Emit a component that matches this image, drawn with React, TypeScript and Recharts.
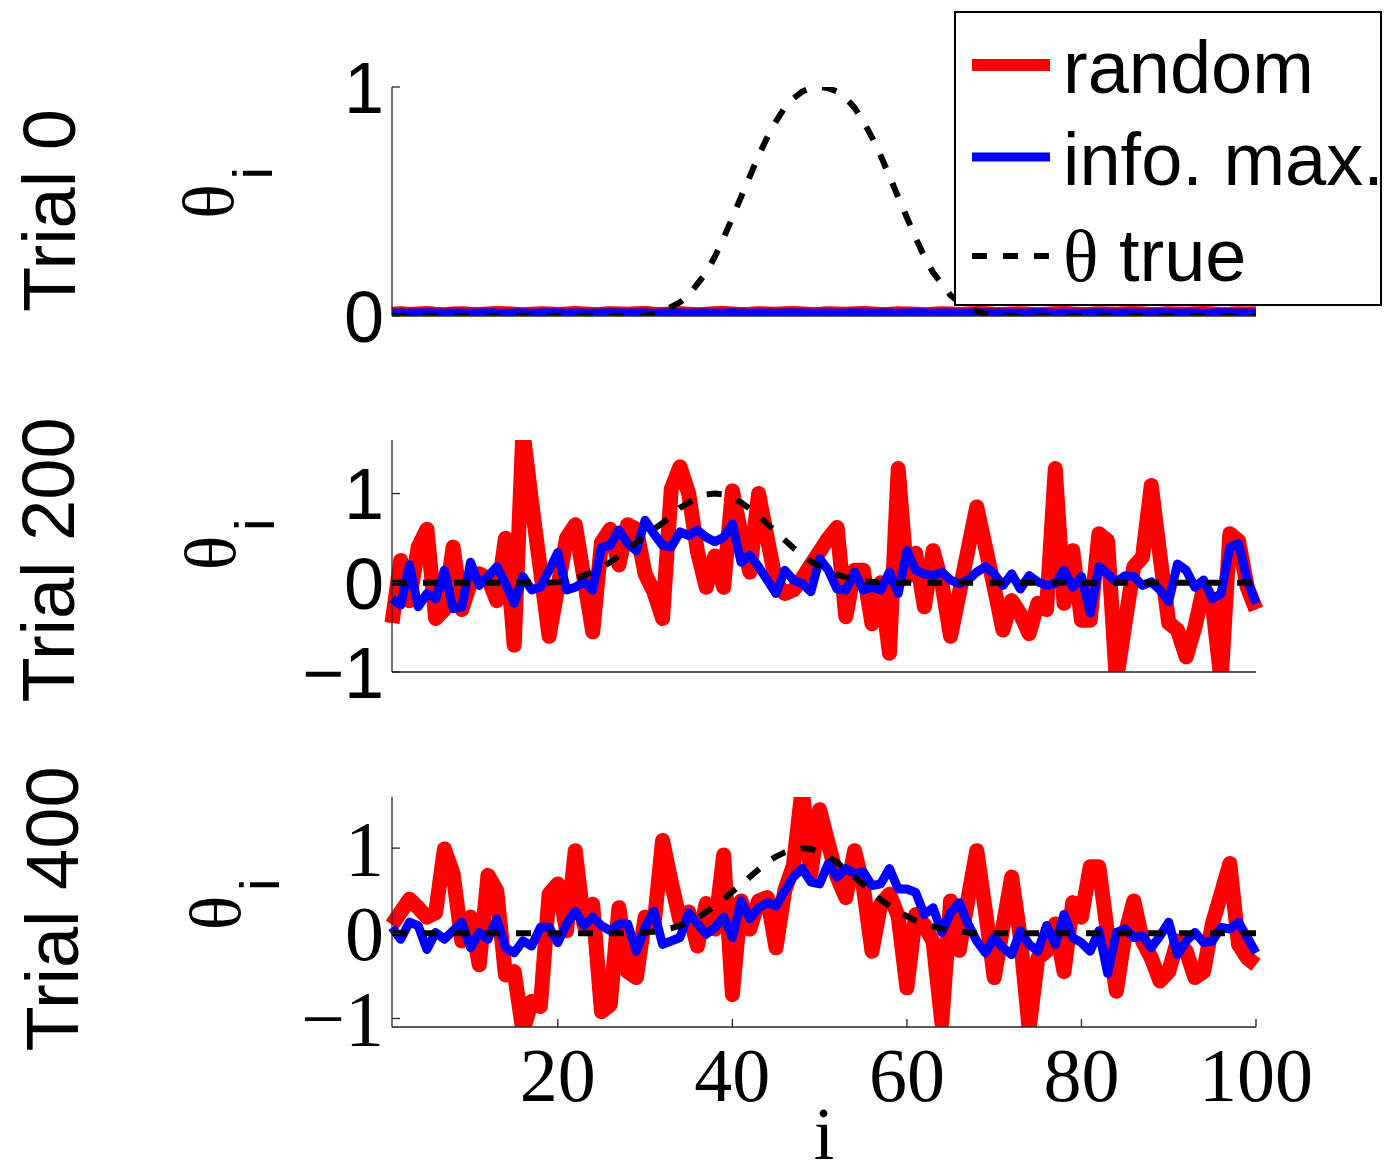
import React from 'react';
import { LineChart, Line, XAxis, YAxis, Label } from 'recharts';

// sample index i = 1..100
const indexI = Array.from({ length: 100 }, (_, k) => k + 1);

// Trial 0
const random0 = [
  0.008, 0.010, 0.007, 0.009, 0.011, 0.008, 0.006, 0.009, 0.010, 0.008,
  0.007, 0.009, 0.011, 0.010, 0.008, 0.006, 0.008, 0.010, 0.009, 0.007,
  0.009, 0.011, 0.009, 0.007, 0.008, 0.010, 0.009, 0.008, 0.010, 0.011,
  0.008, 0.007, 0.009, 0.010, 0.008, 0.006, 0.008, 0.010, 0.011, 0.009,
  0.007, 0.008, 0.010, 0.009, 0.008, 0.010, 0.011, 0.009, 0.007, 0.008,
  0.010, 0.009, 0.008, 0.010, 0.011, 0.009, 0.007, 0.008, 0.010, 0.009,
  0.008, 0.006, 0.008, 0.010, 0.009, 0.007, 0.009, 0.011, 0.010, 0.008,
  0.007, 0.009, 0.010, 0.008, 0.006, 0.008, 0.010, 0.011, 0.009, 0.007,
  0.008, 0.010, 0.009, 0.008, 0.010, 0.011, 0.009, 0.007, 0.008, 0.010,
  0.009, 0.008, 0.010, 0.011, 0.009, 0.007, 0.008, 0.010, 0.009, 0.010,
];
const info0 = [
  0.013, 0.013, 0.012, 0.013, 0.014, 0.013, 0.012, 0.013, 0.013, 0.012,
  0.013, 0.014, 0.013, 0.012, 0.013, 0.013, 0.012, 0.013, 0.014, 0.013,
  0.012, 0.013, 0.013, 0.012, 0.013, 0.014, 0.013, 0.012, 0.013, 0.013,
  0.012, 0.013, 0.014, 0.013, 0.012, 0.013, 0.013, 0.012, 0.013, 0.014,
  0.013, 0.012, 0.013, 0.013, 0.012, 0.013, 0.014, 0.013, 0.012, 0.013,
  0.013, 0.012, 0.013, 0.014, 0.013, 0.012, 0.013, 0.013, 0.012, 0.013,
  0.014, 0.013, 0.012, 0.013, 0.013, 0.012, 0.013, 0.014, 0.013, 0.012,
  0.013, 0.013, 0.012, 0.013, 0.014, 0.013, 0.012, 0.013, 0.013, 0.012,
  0.013, 0.014, 0.013, 0.012, 0.013, 0.013, 0.012, 0.013, 0.014, 0.013,
  0.012, 0.013, 0.013, 0.012, 0.013, 0.014, 0.013, 0.012, 0.013, 0.013,
];
const theta0 = [
  0, 0, 0, 0, 0, 0, 0, 0, 0, 0,
  0, 0, 0, 0, 0, 0, 0, 0, 0, 0,
  0, 0, 0, 0, 0, 0, 0, 0, 0, 0,
  0.01, 0.02, 0.04, 0.06, 0.09, 0.14, 0.19, 0.26, 0.34, 0.43,
  0.52, 0.61, 0.70, 0.78, 0.85, 0.91, 0.95, 0.98, 0.995, 1.0,
  0.995, 0.98, 0.95, 0.91, 0.85, 0.78, 0.70, 0.61, 0.52, 0.43,
  0.34, 0.26, 0.19, 0.14, 0.09, 0.06, 0.04, 0.02, 0.01, 0,
  0, 0, 0, 0, 0, 0, 0, 0, 0, 0,
  0, 0, 0, 0, 0, 0, 0, 0, 0, 0,
  0, 0, 0, 0, 0, 0, 0, 0, 0, 0,
];

// Trial 200
const random200 = [
  -0.45, 0.25, -0.2, 0.4, 0.6, -0.4, -0.3, 0.4, -0.3, 0.0,
  0.1, 0.05, -0.2, 0.5, -0.7, 1.7, 0.9, 0.15, -0.6, -0.05,
  0.5, 0.65, 0.05, -0.55, 0.45, 0.6, 0.2, 0.65, 0.6, 0.1,
  -0.1, -0.4, 1.05, 1.3, 1.0, 0.35, -0.05, 0.3, -0.05, 1.03,
  0.55, 0.12, 1.0, 0.5, 0.0, -0.12, -0.08, 0.05, 0.2, 0.35,
  0.5, 0.62, -0.38, 0.14, 0.14, -0.46, 0.0, -0.79, 1.28, 0.07,
  0.33, -0.27, 0.36, 0.0, -0.6, -0.12, 0.37, 0.85, 0.4, -0.05,
  -0.53, -0.2, -0.35, -0.57, -0.23, -0.3, 1.28, -0.23, 0.36, -0.42,
  -0.42, 0.55, 0.47, -1.1, -0.45, 0.18, 0.29, 1.09, 0.3, -0.45,
  -0.53, -0.83, -0.5, -0.05, -0.23, -1.1, 0.55, 0.47, -0.05, -0.3,
];
const info200 = [
  -0.18, -0.25, 0.2, -0.27, -0.12, -0.18, 0.14, -0.29, -0.27, 0.23,
  -0.03, 0.07, 0.18, -0.01, -0.23, 0.07, -0.08, -0.05, 0.14, 0.34,
  -0.08, -0.05, 0.01, -0.08, 0.4, 0.42, 0.59, 0.44, 0.36, 0.7,
  0.55, 0.42, 0.4, 0.57, 0.53, 0.59, 0.51, 0.46, 0.51, 0.66,
  0.23, 0.31, 0.18, 0.03, -0.12, 0.14, 0.03, -0.01, -0.1, 0.27,
  0.14, -0.07, -0.08, 0.12, -0.08, -0.05, -0.08, 0.12, -0.12, 0.36,
  0.14, 0.1, 0.08, 0.12, 0.03, -0.01, 0.03, 0.12, 0.18, 0.1,
  -0.03, 0.1, -0.07, 0.08, 0.01, -0.03, -0.01, 0.14, -0.05, 0.07,
  -0.34, 0.18, 0.1, 0.01, 0.08, 0.07, -0.03, 0.01, -0.08, -0.21,
  0.21, 0.14, -0.05, 0.03, -0.18, -0.12, 0.4, 0.44, 0.03, -0.23,
];
const theta200 = [
  0, 0, 0, 0, 0, 0, 0, 0, 0, 0,
  0, 0, 0, 0, 0, 0, 0, 0, 0, 0.01,
  0.02, 0.05, 0.08, 0.12, 0.17, 0.23, 0.30, 0.37, 0.45, 0.53,
  0.60, 0.67, 0.75, 0.84, 0.90, 0.95, 0.99, 1.0, 0.99, 0.95,
  0.90, 0.83, 0.75, 0.66, 0.57, 0.48, 0.39, 0.31, 0.24, 0.18,
  0.13, 0.09, 0.06, 0.04, 0.02, 0.01, 0, 0, 0, 0,
  0, 0, 0, 0, 0, 0, 0, 0, 0, 0,
  0, 0, 0, 0, 0, 0, 0, 0, 0, 0,
  0, 0, 0, 0, 0, 0, 0, 0, 0, 0,
  0, 0, 0, 0, 0, 0, 0, 0, 0, 0,
];

// Trial 400
const random400 = [
  0.1, 0.25, 0.4, 0.3, 0.19, 0.24, 0.99, 0.7, -0.09, 0.19,
  -0.37, 0.68, 0.5, -0.49, -0.45, -1.15, -0.8, -0.86, 0.46, 0.58,
  0.03, 0.97, 0.1, 0.34, -0.92, -0.84, 0.3, -0.45, -0.52, 0.19,
  0.07, 1.09, 0.6, 0.15, 0.25, -0.15, 0.35, 0.05, 0.92, -0.72,
  0.38, 0.05, 0.38, 0.42, -0.17, 0.5, 0.8, 1.7, 0.7, 1.45,
  1.05, 0.66, 0.42, 0.97, 0.55, -0.21, 0.34, 0.46, 0.2, -0.64,
  0.22, 0.1, -0.1, -1.05, 0.38, -0.2, 0.4, 0.97, 0.26, -0.52,
  0.07, 0.66, -0.05, -1.12, -0.29, -0.21, 0.11, -0.45, 0.36, 0.19,
  0.78, 0.78, -0.01, -0.68, -0.01, 0.38, -0.09, -0.29, -0.56, -0.45,
  -0.09, -0.21, -0.52, -0.45, 0.11, 0.46, 0.82, -0.13, -0.29, -0.37,
];
const info400 = [
  0.07, -0.07, 0.13, 0.09, -0.19, 0.01, -0.07, 0.03, 0.13, -0.17,
  0.01, -0.07, 0.17, -0.17, -0.23, -0.09, -0.15, 0.07, 0.07, -0.11,
  0.11, 0.26, 0.09, 0.19, 0.09, 0.03, 0.11, 0.11, -0.21, 0.07,
  0.26, -0.13, -0.09, -0.05, 0.24, 0.11, -0.01, 0.07, 0.19, -0.05,
  0.38, 0.17, 0.3, 0.36, 0.32, 0.5, 0.66, 0.76, 0.6, 0.58,
  0.82, 0.66, 0.76, 0.7, 0.72, 0.56, 0.58, 0.76, 0.52, 0.52,
  0.48, 0.22, 0.3, 0.01, 0.24, 0.36, 0.11, -0.09, -0.23, -0.05,
  -0.17, -0.25, 0.03, -0.13, -0.21, 0.09, -0.13, 0.22, -0.05, -0.11,
  -0.21, 0.03, -0.47, 0.01, 0.05, -0.05, -0.03, -0.17, -0.03, 0.13,
  -0.25, -0.09, 0.01, -0.11, -0.09, 0.07, 0.05, 0.13, -0.05, -0.23,
];
const theta400 = [
  0, 0, 0, 0, 0, 0, 0, 0, 0, 0,
  0, 0, 0, 0, 0, 0, 0, 0, 0, 0,
  0, 0, 0, 0, 0, 0, 0, 0, 0, 0.01,
  0.02, 0.04, 0.06, 0.09, 0.13, 0.18, 0.25, 0.32, 0.40, 0.49,
  0.57, 0.66, 0.75, 0.84, 0.90, 0.95, 0.99, 1.0, 0.99, 0.95,
  0.90, 0.83, 0.75, 0.66, 0.57, 0.48, 0.39, 0.32, 0.26, 0.20,
  0.15, 0.11, 0.08, 0.05, 0.03, 0.02, 0.01, 0, 0, 0,
  0, 0, 0, 0, 0, 0, 0, 0, 0, 0,
  0, 0, 0, 0, 0, 0, 0, 0, 0, 0,
  0, 0, 0, 0, 0, 0, 0, 0, 0, 0,
];

const xTicks = [20, 40, 60, 80, 100];

const SANS = '"Liberation Sans", Arial, Helvetica, sans-serif';
const SERIF = '"Liberation Serif", "Times New Roman", serif';
const AXIS = '#262626';

const W = 1387;
const H = 1169;
const PLOT_LEFT = 392;
const PLOT_RIGHT = 1256;

const series = [
  { key: 'random', name: 'random', color: '#ff0000', width: 15, dash: undefined as string | undefined },
  { key: 'info', name: 'info. max.', color: '#0000ff', width: 9, dash: undefined as string | undefined },
  { key: 'truth', name: 'θ true', color: '#000000', width: 6, dash: '15 16' },
];

// every panel chart spans the full page; margins place its plot box
const panels = [
  {
    trial: 'Trial 0', random: random0, info: info0, truth: theta0,
    domain: [0, 1], ticks: [0, 1], tickFont: SANS, tickSize: 72,
    plotTop: 87, plotBottom: 316, xAxisHeight: 10, showX: false,
    trialX: 75, trialShift: 9, thetaX: 233, thetaShift: 0,
  },
  {
    trial: 'Trial 200', random: random200, info: info200, truth: theta200,
    domain: [-1, 1.6], ticks: [-1, 0, 1], tickFont: SANS, tickSize: 72,
    plotTop: 440, plotBottom: 672, xAxisHeight: 10, showX: false,
    trialX: 74, trialShift: 4, thetaX: 235, thetaShift: -3,
  },
  {
    trial: 'Trial 400', random: random400, info: info400, truth: theta400,
    domain: [-1.1, 1.6], ticks: [-1, 0, 1], tickFont: SERIF, tickSize: 78,
    plotTop: 797, plotBottom: 1027, xAxisHeight: 142, showX: true,
    trialX: 78, trialShift: -3, thetaX: 240, thetaShift: 1,
  },
];

const fmt = (v: number) => (v < 0 ? `\u2212${Math.abs(v)}` : `${v}`);

type Panel = (typeof panels)[number];

const SidePanelLabel = ({ viewBox, p }: any) => {
  const cy = viewBox.y + viewBox.height / 2;
  const ty = cy + p.trialShift;
  const th = cy + p.thetaShift;
  return (
    <g>
      <text
        transform={`translate(${p.trialX}, ${ty}) rotate(-90)`}
        textAnchor="middle"
        fontFamily={SANS}
        fontSize={74}
        fill="#000"
      >
        {p.trial}
      </text>
      <g transform={`translate(${p.thetaX}, ${th}) rotate(-90)`}>
        <text x={0} y={0} textAnchor="middle" fontFamily={SERIF} fontSize={72} fill="#000">
          θ
        </text>
        <text x={22} y={39} fontFamily={SANS} fontSize={56} fill="#000">
          i
        </text>
      </g>
    </g>
  );
};

function PanelChart({ p }: { p: Panel }) {
  const data = indexI.map((i, k) => ({
    i,
    random: p.random[k],
    info: p.info[k],
    truth: p.truth[k],
  }));

  const yTick = (props: any) => {
    const { y, payload } = props;
    return (
      <g>
        <line x1={PLOT_LEFT} x2={PLOT_LEFT + 8} y1={y} y2={y} stroke={AXIS} strokeWidth={1.3} />
        <text
          x={PLOT_LEFT - 8}
          y={y}
          dy={p.tickFont === SANS ? '0.36em' : '0.34em'}
          textAnchor="end"
          fontFamily={p.tickFont}
          fontSize={p.tickSize}
          fill="#000"
        >
          {fmt(payload.value)}
        </text>
      </g>
    );
  };

  const xTick = (props: any) => {
    const { x, payload } = props;
    return (
      <g>
        <line x1={x} x2={x} y1={p.plotBottom} y2={p.plotBottom - 8} stroke={AXIS} strokeWidth={1.3} />
        <text x={x} y={p.plotBottom + 74} textAnchor="middle" fontFamily={SERIF} fontSize={76} fill="#000">
          {payload.value}
        </text>
      </g>
    );
  };

  return (
    <div style={{ position: 'absolute', left: 0, top: 0 }}>
      <LineChart
        width={W}
        height={H}
        data={data}
        margin={{
          top: p.plotTop,
          right: W - PLOT_RIGHT,
          bottom: H - p.plotBottom - p.xAxisHeight,
          left: 0,
        }}
      >
        <XAxis
          dataKey="i"
          type="number"
          domain={[1, 100]}
          ticks={p.showX ? xTicks : []}
          height={p.xAxisHeight}
          axisLine={{ stroke: AXIS, strokeWidth: 1.3 }}
          tickLine={false}
          tickSize={0}
          tickMargin={0}
          tick={p.showX ? xTick : false}
          interval={0}
        >
          {p.showX && (
            <Label
              content={() => (
                <text
                  x={(PLOT_LEFT + PLOT_RIGHT) / 2}
                  y={p.plotBottom + 132}
                  textAnchor="middle"
                  fontFamily={SERIF}
                  fontSize={74}
                  fill="#000"
                >
                  i
                </text>
              )}
            />
          )}
        </XAxis>
        <YAxis
          type="number"
          domain={p.domain}
          ticks={p.ticks}
          allowDataOverflow
          width={PLOT_LEFT}
          axisLine={{ stroke: AXIS, strokeWidth: 1.3 }}
          tickLine={false}
          tickSize={0}
          tickMargin={0}
          tick={yTick}
          interval={0}
        >
          <Label content={(lp: any) => <SidePanelLabel viewBox={lp.viewBox} p={p} />} />
        </YAxis>
        {series.map((s) => (
          <Line
            key={s.key}
            type="linear"
            dataKey={s.key}
            stroke={s.color}
            strokeWidth={s.width}
            strokeDasharray={s.dash}
            strokeLinejoin="round"
            dot={false}
            activeDot={false}
            isAnimationActive={false}
          />
        ))}
      </LineChart>
    </div>
  );
}

// legend box in the upper right corner
const legendRows = [65, 157, 256];
const legendBaselines = [93, 185, 281];

function LegendBox() {
  return (
    <svg
      width={W}
      height={320}
      style={{ position: 'absolute', left: 0, top: 0, pointerEvents: 'none' }}
    >
      <rect x={955} y={12} width={426} height={293} fill="#fff" stroke="#000" strokeWidth={2} />
      {series.map((s, k) => (
        <g key={s.key}>
          <line
            x1={972}
            x2={1050}
            y1={legendRows[k]}
            y2={legendRows[k]}
            stroke={s.color}
            strokeWidth={s.key === 'random' ? 12 : s.width}
            strokeDasharray={s.dash}
          />
          <text x={1063} y={legendBaselines[k]} fontFamily={SANS} fontSize={74} fill="#000">
            {s.key === 'truth' ? (
              <>
                <tspan fontFamily={SERIF}>θ</tspan>
                <tspan> true</tspan>
              </>
            ) : (
              s.name
            )}
          </text>
        </g>
      ))}
    </svg>
  );
}

export default function App() {
  return (
    <div
      style={{
        position: 'absolute',
        left: 0,
        top: 0,
        width: W,
        height: H,
        overflow: 'hidden',
        background: '#fff',
      }}
    >
      {panels.map((p) => (
        <PanelChart key={p.trial} p={p} />
      ))}
      <LegendBox />
    </div>
  );
}
